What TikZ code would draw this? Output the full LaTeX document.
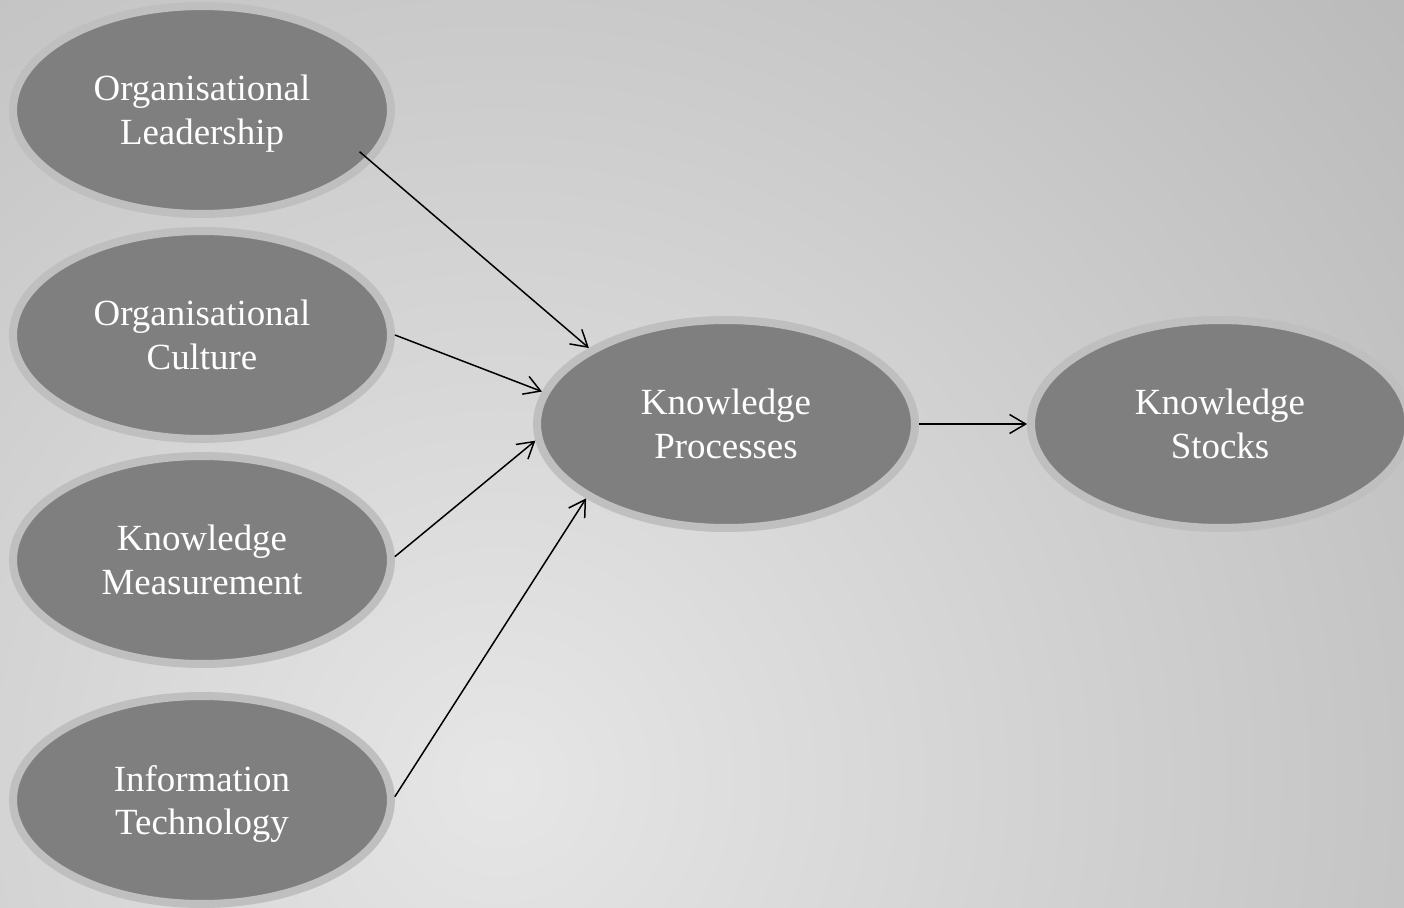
\documentclass[tikz,border=0pt]{standalone}
\usepackage{fontspec}
\setmainfont{Liberation Serif}
\usetikzlibrary{arrows.meta,shapes}
\definecolor{bglight}{HTML}{E6E6E6}
\definecolor{bgdark}{HTML}{A8A8A8}
\definecolor{ellfill}{HTML}{7F7F7F}
\definecolor{ellring}{HTML}{BFBFBF}
\tikzstyle{factor}=[ellipse,fill=ellfill,draw=ellring,line width=0.16cm,minimum width=7.56cm,minimum height=4.16cm,inner sep=0pt,align=center,text=white,text depth=0pt,font=\fontsize{21}{25}\selectfont]
\tikzstyle{edge} = [draw,line width=0.85pt,-{Straight Barb[length=3.2mm,width=3.8mm]}]

\begin{document}
\begin{tikzpicture}[x=0.02cm, y=-0.02cm]

    \useasboundingbox (0,0) rectangle (1404,907);
    \begin{scope}
        \clip (0,0) rectangle (1404,907);
        \shade[inner color=bglight, outer color=bgdark] (500,780) circle [radius=34cm];
    \end{scope}

     \foreach \x/\y/\name/\text in {202/110/lead/{Organisational\\Leadership}, 202/335/cult/{Organisational\\Culture}, 202/560/meas/{Knowledge\\Measurement}, 202/800/it/{Information\\Technology}, 726/424/proc/{Knowledge\\Processes}, 1220/424/stock/{Knowledge\\Stocks}}
        \node[factor] (\name) at (\x,\y) {\text};

    \path[edge, shorten <=-0.31cm] (lead.-17.5) -- (proc.151);

    \foreach \source/ \dest in {cult.0/proc.170, meas.1/proc.185, it.1/proc.208, proc/stock}
        \path[edge] (\source) -- (\dest);

\end{tikzpicture}
\end{document}
